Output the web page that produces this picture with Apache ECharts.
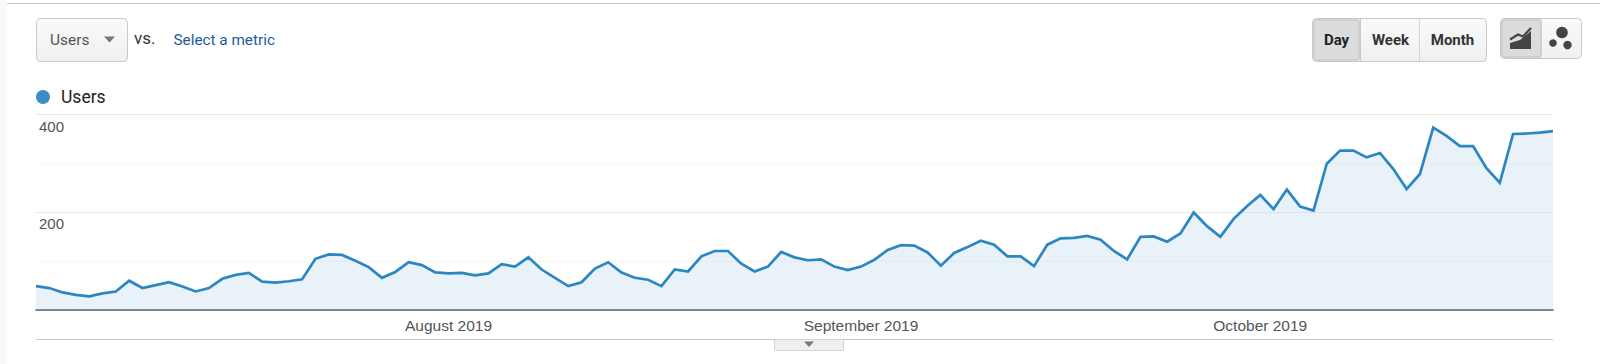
<!DOCTYPE html>
<html>
<head>
<meta charset="utf-8">
<style>html,body{margin:0;padding:0;background:#fff}#c{width:1600px;height:364px}</style>
<script src="https://cdn.jsdelivr.net/npm/echarts@6/dist/echarts.min.js"></script>
</head>
<body>
<div id="c"></div>
<script>
const seriesName = "Users";
const users = [48,44,35,30,27,33,37,59,44,50,56,47,37,44,63,71,75,57,55,58,62,104,113,112,100,87,65,77,97,91,76,74,75,70,74,93,88,107,
82,65,48,56,84,97,76,65,61,48,82,78,109,120,120,94,78,88,118,107,101,103,88,81,88,102,122,132,131,117,90,116,128,141,133,109,109,89,133,146,
147,151,143,120,103,149,150,139,156,199,171,149,186,212,235,206,246,211,203,299,326,326,312,321,288,247,278,373,356,335,335,290,260,360,361,363,366];
const startDate = "2019-07-01";
const monthLabels = {"2019-08-01":"August 2019","2019-09-01":"September 2019","2019-10-01":"October 2019"};
const yLabels = {200:"200",400:"400"};
const dates = users.map((_, i) => new Date(Date.parse(startDate + "T00:00:00Z") + i * 864e5).toISOString().slice(0, 10));

const FONT = '"Liberation Sans", Arial, sans-serif';
const RB = 'Roboto, sans-serif';
const btnFill = new echarts.graphic.LinearGradient(0,0,0,1,[{offset:0,color:'#fafafa'},{offset:1,color:'#f0f0f0'}]);
const rect = (x,y,w,h,fill,stroke,r) => ({type:'rect',silent:true,shape:{x,y,width:w,height:h,r:r||0},style:{fill,stroke:stroke||null,lineWidth:1}});
const text = (x,y,t,size,color,font,weight,align) => ({type:'text',silent:true,x,y,style:{text:t,fontSize:size,fill:color,fontFamily:font||RB,fontWeight:weight||'normal',verticalAlign:'middle',align:align||'left'}});
const poly = (points,fill) => ({type:'polygon',silent:true,shape:{points},style:{fill}});
const circ = (cx,cy,r,fill) => ({type:'circle',silent:true,shape:{cx,cy,r},style:{fill}});
const hline = (x1,x2,y,color) => ({type:'line',silent:true,shape:{x1,y1:y,x2,y2:y},style:{stroke:color,lineWidth:1}});
const vline = (x,y1,y2,color) => ({type:'line',silent:true,shape:{x1:x,y1,x2:x,y2},style:{stroke:color,lineWidth:1}});

const decor = [
  rect(0,0,7,364,'#f8f9fb'),
  hline(7,1600,3.5,'#c9c9c9'),
  hline(36,1553,339.5,'#c8c8c8'),
  // metric dropdown
  rect(36.5,18.5,91,43,btnFill,'#c9c9c9',4),
  text(50,40,'Users',15.5,'#555'),
  poly([[104,36.5],[115,36.5],[109.5,42.5]],'#777'),
  text(134,38,'vs.',17,'#333'),
  text(173.5,40,'Select a metric',15.3,'#1c5aa0'),
  // period buttons
  rect(1312.5,18.5,174,43,btnFill,'#c9c9c9',4),
  rect(1313,19,47,42,'#cfcfcf',null,3),
  rect(1315,21,43,38,'#dcdcdc',null,2),
  vline(1360.5,19,61,'#c9c9c9'),
  vline(1419.5,19,61,'#d4d4d4'),
  text(1336.5,40,'Day',15,'#222',RB,'bold','center'),
  text(1390.5,40,'Week',15,'#333',RB,'bold','center'),
  text(1452.5,40,'Month',15,'#333',RB,'bold','center'),
  // view toggle
  rect(1500.5,18.5,81,40,btnFill,'#c9c9c9',4),
  rect(1501,19,41,39,'#cfcfcf',null,3),
  rect(1503,21,37,35,'#dcdcdc',null,2),
  poly([[1510,49],[1510,43],[1520,40],[1531,31],[1531,49]],'#444'),
  {type:'polyline',silent:true,shape:{points:[[1510,39.5],[1518,34.5],[1523,36.5],[1531,28]]},style:{stroke:'#444',lineWidth:2.2,fill:null}},
  circ(1562,32.5,5.8,'#444'),
  circ(1553,43,3.8,'#444'),
  circ(1567.5,45,4.2,'#444'),
  // bottom handle
  rect(774.5,339.5,69,11,'#efefef','#d4d4d4',1),
  poly([[804,341.5],[814,341.5],[809,347]],'#777')
];

const chart = echarts.init(document.getElementById('c'), null, {renderer:'svg'});
chart.setOption({
  animation:false,
  backgroundColor:'#fff',
  legend:{show:true,left:31,top:83,itemWidth:14,itemHeight:14,icon:'circle',itemGap:0,
    textStyle:{fontFamily:RB,fontSize:17.5,color:'#222',padding:[0,0,0,6]},data:[seriesName]},
  grid:{left:36,right:47,top:114.5,bottom:54.5,containLabel:false},
  xAxis:{type:'category',data:dates,boundaryGap:false,
    axisLine:{show:true,lineStyle:{color:'#555',width:1.5}},
    axisTick:{show:false},splitLine:{show:false},
    axisLabel:{interval:(i,v)=>v in monthLabels,formatter:v=>monthLabels[v]||'',
      hideOverlap:false,
      fontFamily:FONT,fontSize:15.5,color:'#555',margin:8}},
  yAxis:{type:'value',min:0,max:400,interval:100,
    axisLine:{show:false},axisTick:{show:false},
    splitLine:{show:true,lineStyle:{color:['#ddd','#f6f6f6','#e9e9e9','#f6f6f6','#e9e9e9'],width:1}},
    axisLabel:{inside:true,margin:3,verticalAlign:'top',padding:[4,0,0,0],formatter:v=>yLabels[v]||'',
      fontFamily:FONT,fontSize:15,color:'#555'}},
  series:[{name:seriesName,type:'line',data:users,symbol:'none',smooth:false,
    itemStyle:{color:'#3a8dc5'},
    lineStyle:{color:'#2b87c2',width:2.7,join:'miter'},
    areaStyle:{color:'rgba(198,218,238,0.38)',opacity:1},z:3}],
  graphic:{elements:decor}
});
</script>
</body>
</html>
